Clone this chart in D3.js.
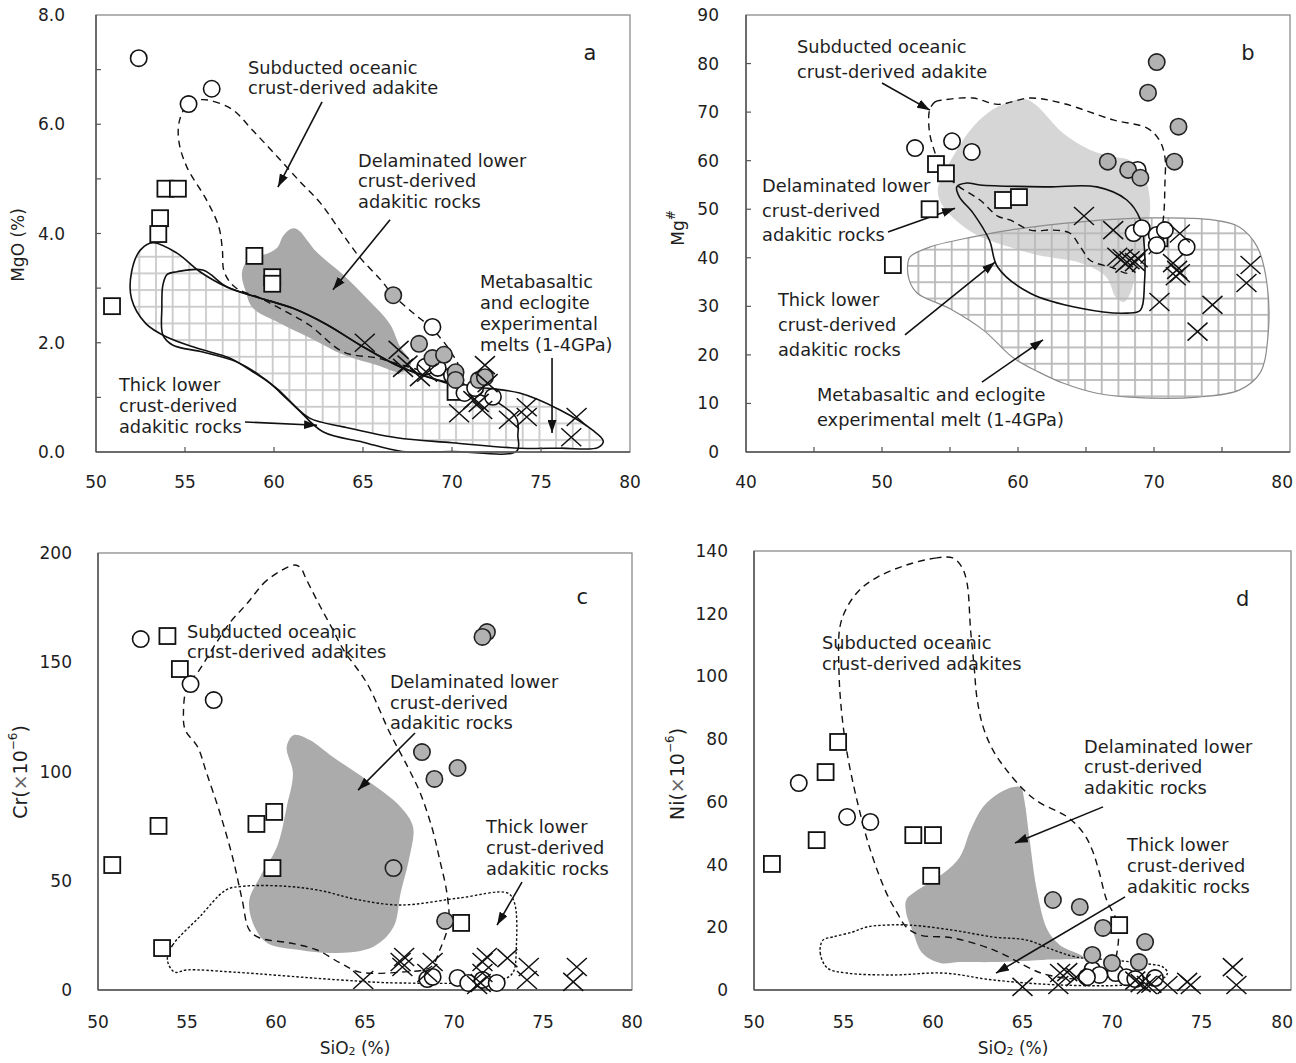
<!DOCTYPE html>
<html><head><meta charset="utf-8">
<script src="https://cdn.jsdelivr.net/npm/d3@7"></script>
<style>
body{margin:0;background:#fff}
svg{display:block}
text{font-family:"DejaVu Sans",sans-serif;fill:#1e1e1e}
</style>
</head><body>
<svg id="chart" width="1296" height="1063"></svg>
<script>
// ---------------- tick labels ----------------
const siTicks = [50, 55, 60, 65, 70, 75, 80];
const siTicksB = [40, 50, 60, 70, 80];
const siMinorB = [45, 50, 55, 60, 65, 70, 75];
const siMinorA = [55, 60, 65, 70, 75];
const mgoTicks = [0, 2, 4, 6, 8];
const mgoMinor = [1, 2, 3, 4, 5, 6, 7];
const mgNumTicks = [0, 10, 20, 30, 40, 50, 60, 70, 80, 90];
const crTicks = [0, 50, 100, 150, 200];
const niTicks = [0, 20, 40, 60, 80, 100, 120, 140];

// ---------------- panel a : SiO2 vs MgO ----------------
const aSquares = [[50.9,2.67],[53.9,4.82],[54.6,4.82],[53.6,4.28],[53.5,3.99],[58.9,3.59],[59.9,3.20],[59.9,3.08],[70.2,1.10]];
const aOpen = [[52.4,7.21],[55.2,6.37],[56.5,6.65],[68.9,2.29],[68.5,1.56],[69.2,1.54],[70.0,1.40],[70.7,1.08],[71.3,1.17],[72.3,1.01]];
const aGrey = [[66.7,2.87],[68.15,1.98],[68.9,1.72],[69.55,1.78],[70.2,1.46],[70.2,1.32],[71.5,1.32],[71.85,1.37]];
const aCrosses = [[65.1,2.0],[67.0,1.87],[67.25,1.54],[67.5,1.6],[68.2,1.37],[68.6,1.45],[71.85,1.59],[72.0,1.26],[71.2,0.95],[71.5,0.9],[70.4,0.71],[71.7,0.77],[73.2,0.59],[74.2,0.82],[74.2,0.64],[77.0,0.64],[76.7,0.27]];
const aSubducted = [[55.9,6.45],[56.6,6.42],[57.7,6.26],[58.8,5.89],[60.2,5.40],[61.46,4.95],[62.6,4.56],[63.7,4.06],[64.8,3.57],[66.0,3.15],[66.7,2.87],[67.8,2.55],[68.9,2.25],[70.0,1.8],[70.4,1.5],[69.5,1.42],[67.2,1.59],[65.8,1.72],[63.9,1.83],[62.0,2.32],[60.5,2.6],[59.2,2.82],[57.8,3.02],[57.2,3.3],[57.1,3.7],[56.9,4.12],[56.2,4.62],[55.1,5.22],[54.65,5.7],[54.7,6.08],[55.2,6.38]];
const aDelaminated = [[58.26,3.37],[58.65,3.55],[59.6,3.63],[60.2,3.75],[60.5,3.95],[60.9,4.08],[61.3,4.08],[62.4,3.66],[63.9,3.24],[65.4,2.75],[66.5,2.35],[67.1,1.92],[67.7,1.62],[67.2,1.46],[65.8,1.59],[63.9,1.78],[62.0,2.09],[60.2,2.38],[58.8,2.64],[58.4,2.95],[58.2,3.2]];
const aMetabasalt = [[53.2,3.83],[54.55,3.64],[55.84,3.30],[57.36,3.02],[59.2,2.82],[61.07,2.63],[62.98,2.33],[64.83,1.96],[67.08,1.56],[69.16,1.32],[71.4,1.19],[73.8,1.08],[76.07,0.77],[77.9,0.40],[78.5,0.2],[78.2,0.08],[76.1,0.07],[73.8,0.07],[70.0,0.17],[66.9,0.26],[63.9,0.46],[62.0,0.62],[60.8,0.95],[59.8,1.25],[58.8,1.47],[57.5,1.72],[55.7,1.90],[54.0,2.1],[52.8,2.35],[52.0,2.8],[52.0,3.3],[52.5,3.7]];
const aThickLower = [[54.55,3.30],[56.0,3.33],[57.36,3.02],[59.2,2.82],[61.07,2.63],[62.98,2.33],[64.83,1.96],[67.08,1.56],[69.16,1.32],[71.0,1.12],[72.6,0.9],[73.65,0.6],[73.7,0.3],[73.65,0.02],[70.0,0.01],[67.2,0.01],[65.0,0.18],[62.75,0.37],[61.3,0.8],[60.2,1.15],[59.0,1.45],[57.9,1.65],[56.0,1.83],[54.3,1.96],[53.76,2.14],[53.7,2.64],[53.76,3.06],[54.0,3.25]];

// ---------------- panel b : SiO2 vs Mg# ----------------
const bSquares = [[53.97,59.3],[54.7,57.4],[53.5,50.0],[50.8,38.5],[58.9,51.9],[60.07,52.5],[70.4,44.0]];
const bOpen = [[52.43,62.6],[55.15,64.0],[56.6,61.8],[68.8,58.1],[68.5,45.1],[69.1,46.1],[70.2,44.7],[70.8,45.7],[70.2,42.6],[72.4,42.2]];
const bGrey = [[70.2,80.3],[69.56,74.0],[71.8,67.0],[71.5,59.8],[66.6,59.8],[68.1,58.1],[69.0,56.5]];
const bCrosses = [[64.85,48.6],[67.0,45.7],[67.3,40.2],[67.7,39.9],[68.2,39.5],[68.6,39.1],[68.8,39.9],[67.9,38.8],[71.9,45.0],[71.4,38.9],[71.7,37.5],[71.9,36.8],[71.6,36.2],[70.4,30.9],[74.3,30.3],[73.2,24.8],[77.1,38.5],[76.8,34.8]];
const bDelaminated = [[54.1,54.0],[54.8,58.7],[56.7,67.0],[58.5,71.1],[60.5,72.7],[61.3,71.5],[63.3,65.7],[65.3,62.2],[67.0,60.8],[68.2,60.1],[69.2,57.4],[69.7,51.9],[69.5,45.1],[68.75,38.1],[68.3,33],[67.8,30.9],[67.2,31.8],[66.5,36.0],[64.6,38.9],[61.5,40.5],[59.4,42.2],[56.7,45.1],[54.5,50.5]];
const bSubducted = [[53.5,70.4],[53.9,72.1],[54.5,72.5],[56.7,72.9],[58.5,71.6],[60.9,72.9],[63.3,71.8],[67.0,68.4],[69.5,66.7],[70.4,64.2],[70.8,60.8],[70.8,55],[70.7,48.4],[70.4,43.7],[69.7,41.0],[68.75,38.1],[68.1,36.8],[67.0,37.9],[65.3,39.5],[64.6,42.2],[63.8,45.1],[62.6,45.7],[60.9,45.7],[59.4,47.8],[58.5,48.6],[57.2,51.9],[55.5,55.0],[54.3,58.5],[53.9,61.6],[53.5,65.7]];
const bThickLower = [[55.5,54.6],[56.25,55.4],[57.2,55.0],[62.1,54.6],[65.8,54.6],[68.0,51.9],[69.0,47.8],[69.3,41.6],[69.3,34.8],[69.0,29.2],[68.0,28.6],[64.6,29.6],[60.9,32.7],[58.5,38.1],[57.9,43.6],[56.7,49.2],[55.7,52.5]];
const bMetabasalt = [[51.9,38.9],[52.06,40.2],[53.5,42.2],[56.7,44.3],[59.4,45.7],[64.6,47.4],[69.5,48.2],[74.3,47.8],[76.3,46.3],[77.6,42.2],[78.3,34.8],[78.4,24.5],[77.8,16.3],[76.3,12.8],[73.2,11.3],[68.2,11.3],[65.8,12.1],[63.3,14.2],[61.5,16.5],[59.6,19.5],[57.5,25.0],[55.0,29.5],[52.6,32.7],[52.0,35.4]];

// ---------------- panel c : SiO2 vs Cr ----------------
const cSquares = [[53.9,162.0],[54.6,146.9],[53.4,75.1],[50.8,57.2],[58.9,76.0],[59.9,81.5],[59.8,55.8],[53.6,19.2],[70.4,30.7]];
const cOpen = [[52.4,160.6],[55.2,140.0],[56.5,132.7],[68.5,5.0],[68.8,6.0],[70.2,5.5],[70.8,3.2],[71.6,4.6],[72.4,3.2]];
const cGrey = [[71.85,163.8],[71.6,161.6],[68.2,108.9],[70.2,101.6],[68.9,96.6],[66.6,55.8],[69.5,31.6]];
const cCrosses = [[64.9,4.6],[67.0,12.8],[67.2,15.1],[67.1,10.5],[68.8,12.8],[68.5,7.8],[71.6,12.8],[71.85,15.1],[71.6,7.8],[71.5,3.2],[71.3,2.3],[73.0,14.6],[74.2,10.5],[74.1,4.6],[76.9,10.5],[76.7,3.7]];
const cSubducted = [[61.07,194.5],[59.5,187.6],[58.4,177.1],[57.4,168.0],[56.5,157.0],[55.7,146.5],[55.0,138.7],[54.8,126.8],[54.9,119.0],[55.6,111.2],[56.1,99.3],[56.85,81.0],[57.6,59.5],[58.1,41.2],[58.5,27.5],[59.1,23.8],[60.8,21.5],[62.3,18.3],[63.6,12.4],[64.7,8.2],[67.0,8.2],[68.7,10.5],[69.2,18.3],[69.7,30.7],[69.6,44.4],[69.2,59.5],[68.8,73.2],[68.1,90.2],[67.4,102.1],[66.4,117.6],[65.1,140.5],[63.8,155.6],[63.2,164.8],[62.5,175.3],[61.7,188],[61.4,193]];
const cThickLower = [[53.9,13.7],[54.2,20.6],[55.7,33.4],[57.2,45.8],[58.2,47.5],[60.5,47.5],[62.5,45.5],[64.5,41.5],[67.0,38.9],[70.3,42.1],[73.0,44.4],[73.4,39.8],[73.5,19.7],[73.3,7.8],[72.6,4.6],[67.0,3.2],[63.6,4.6],[57.6,8.2],[55.0,9.2],[54.3,8.2]];
const cDelaminated = [[61.0,116.7],[61.9,114.4],[63.2,106.6],[65.1,96.1],[67.0,83.8],[67.7,74.6],[67.5,60.9],[67.0,44.4],[66.6,28.8],[65.45,19.7],[63.2,16.9],[61.35,18.3],[59.5,21.5],[58.7,30.7],[58.5,41.2],[59.1,51.7],[60.05,65.4],[60.6,83.8],[60.95,99.3],[60.6,111.2]];

// ---------------- panel d : SiO2 vs Ni ----------------
const dSquares = [[54.7,79.1],[54.0,69.5],[53.5,47.8],[51.0,40.2],[58.9,49.4],[60.0,49.4],[59.9,36.4],[70.4,20.7]];
const dOpen = [[52.5,66.0],[55.2,55.2],[56.5,53.6],[68.9,6.4],[69.3,4.8],[70.2,5.4],[70.8,4.1],[72.4,3.8],[68.6,4.1],[71.3,3.5]];
const dGrey = [[66.7,28.7],[68.2,26.5],[69.5,19.8],[71.85,15.3],[68.9,11.2],[70.0,8.6],[71.5,8.9]];
const dCrosses = [[65.0,1.0],[67.0,1.6],[67.1,5.4],[67.5,5.7],[68.0,4.1],[71.6,2.2],[71.3,3.0],[71.95,1.6],[72.2,2.0],[73.1,1.6],[74.2,2.6],[74.4,1.6],[76.75,7.3],[76.95,1.6]];
const dSubducted = [[61.1,137.8],[60.2,137.8],[58.5,135.5],[56.9,131.7],[55.9,127.6],[55.2,122.1],[54.8,115.8],[54.75,101.1],[54.9,88.3],[55.2,75.6],[55.75,60.6],[56.5,44.6],[57.4,30.9],[58.0,24.6],[58.5,20.1],[59.3,17.5],[61.1,16.6],[63.5,12.5],[65.6,6.4],[66.4,4.8],[68.0,3.5],[69.8,4.5],[70.3,12.8],[70.3,21.4],[69.7,28.7],[69.3,37.3],[68.9,44.6],[68.4,50.1],[67.5,55.2],[66.0,59.6],[65.25,62.8],[64.1,70.2],[63.35,76.5],[62.8,83.9],[62.45,93.4],[62.3,103.0],[62.1,114.8],[61.9,129.8],[61.6,135]];
const dThickLower = [[53.85,15.9],[53.7,11.8],[54.1,7.0],[55.2,5.4],[57.8,4.8],[60.6,5.4],[63.35,3.2],[67.1,1.6],[70.8,1.6],[72.7,3.2],[73.1,5.4],[72.85,7.3],[71.6,8.6],[69.9,9.6],[68.0,10.5],[66.7,12.8],[65.25,15.9],[63.35,16.9],[61.1,19.1],[58.7,20.7],[57.4,20.7],[56.3,20.1],[55.5,18.5],[54.4,16.9]];
const dDelaminated = [[58.5,28.7],[58.9,30.9],[60.6,37.3],[61.5,42.4],[62.1,51.0],[62.8,58.4],[63.7,62.8],[64.5,64.7],[64.9,64.7],[65.1,60.6],[65.4,47.8],[65.8,31.9],[66.4,19.1],[67.1,14.3],[68.4,10.5],[66.1,9.6],[63.35,8.9],[61.5,8.9],[60.4,8.6],[59.4,11.8],[58.9,18.2],[58.5,24.6]];

// ---------------- annotations (data units) ----------------
const aTexts = [
  {x:58.54, y:6.92, lines:["Subducted oceanic","crust-derived adakite"], dy:20.5},
  {x:64.72, y:5.22, lines:["Delaminated lower","crust-derived","adakitic rocks"], dy:20.5},
  {x:71.57, y:3.00, lines:["Metabasaltic","and eclogite","experimental","melts (1-4GPa)"], dy:21},
  {x:51.29, y:1.12, lines:["Thick lower","crust-derived","adakitic rocks"], dy:21}
];
const aArrows = [[[62.70,6.41],[60.22,4.85]],[[66.52,4.25],[63.31,2.97]],[[75.62,1.72],[75.62,0.35]],[[58.37,0.55],[62.42,0.49]]];
const bTexts = [
  {x:43.75, y:82.2, lines:["Subducted oceanic","crust-derived adakite"], dy:25},
  {x:41.18, y:53.5, lines:["Delaminated lower","crust-derived","adakitic rocks"], dy:24.5},
  {x:42.35, y:30.1, lines:["Thick lower","crust-derived","adakitic rocks"], dy:25},
  {x:45.22, y:10.5, lines:["Metabasaltic and eclogite","experimental melt (1-4GPa)"], dy:25}
];
const bArrows = [[[50.0,76.0],[53.53,70.4]],[[50.44,45.3],[55.37,50.2]],[[51.69,24.1],[58.31,39.1]],[[57.35,14.4],[61.84,23.1]]];
const cTexts = [
  {x:55.0, y:161.1, lines:["Subducted oceanic","crust-derived adakites"], dy:20.5},
  {x:66.4, y:138.2, lines:["Delaminated lower","crust-derived","adakitic rocks"], dy:20.5},
  {x:71.8, y:71.9, lines:["Thick lower","crust-derived","adakitic rocks"], dy:21}
];
const cArrows = [[[67.81,117.6],[64.61,91.5]],[[73.82,49.4],[72.42,29.7]]];
const dTexts = [
  {x:53.8, y:108.7, lines:["Subducted oceanic","crust-derived adakites"], dy:20.5},
  {x:68.44, y:75.6, lines:["Delaminated lower","crust-derived","adakitic rocks"], dy:20.5},
  {x:70.84, y:44.3, lines:["Thick lower","crust-derived","adakitic rocks"], dy:21}
];
const dArrows = [[[69.5,58.4],[64.58,46.9]],[[70.73,29.7],[63.52,5.4]]];

// ---------------- drawing ----------------
const W = 1296;
const svg = d3.select('#chart');
const defs = svg.append('defs');
defs.append('marker').attr('id','arrow').attr('viewBox','0 0 13 9')
  .attr('refX',13).attr('refY',4.5).attr('markerWidth',13).attr('markerHeight',9)
  .attr('markerUnits','userSpaceOnUse').attr('orient','auto')
  .append('path').attr('d','M0,0L13,4.5L0,9Z').attr('fill','#111');

function makeGrid(id, ox, oy, sx, sy, color) {
  const p = defs.append('pattern').attr('id', id).attr('patternUnits','userSpaceOnUse')
    .attr('x', ox - 0.9).attr('y', oy - 0.9).attr('width', sx).attr('height', sy);
  p.append('rect').attr('x',0).attr('y',0).attr('width',1.8).attr('height',sy).attr('fill',color);
  p.append('rect').attr('x',0).attr('y',0).attr('width',sx).attr('height',1.8).attr('fill',color);
}
makeGrid('gridA', 139.3, 256.7, 16.67, 16.67, '#c9c9c9');
makeGrid('gridB', 1051.7, 233.3, 16.67, 16.3, '#b9b9b9');

function panel(cfg) {
  const [L, T, R, B] = cfg.box;
  const x = d3.scaleLinear().domain(cfg.xDomain).range([L, R]);
  const y = d3.scaleLinear().domain(cfg.yDomain).range([B, T]);
  const g = svg.append('g');
  const closed = d3.line().x(d => x(d[0])).y(d => y(d[1])).curve(d3.curveCatmullRomClosed.alpha(0.5));
  cfg.layers.forEach(ly => {
    g.append('path').attr('d', closed(ly.data))
      .attr('fill', ly.fill || 'none')
      .attr('stroke', ly.stroke || 'none')
      .attr('stroke-width', ly.sw || 1.5)
      .attr('stroke-dasharray', ly.dash || null)
      .attr('stroke-linejoin','round');
  });
  // frame
  g.append('rect').attr('x', L).attr('y', T).attr('width', R - L).attr('height', B - T)
    .attr('fill','none').attr('stroke','#8a8a8a').attr('stroke-width',1.3);
  g.append('line').attr('x1',L).attr('x2',L).attr('y1',T).attr('y2',B).attr('stroke','#555').attr('stroke-width',1.5);
  g.append('line').attr('x1',L).attr('x2',R).attr('y1',B).attr('y2',B).attr('stroke','#555').attr('stroke-width',1.5);
  // minor ticks (inward)
  (cfg.xMinor || []).forEach(v => g.append('line').attr('x1',x(v)).attr('x2',x(v)).attr('y1',B).attr('y2',B-5).attr('stroke','#555').attr('stroke-width',1.2));
  (cfg.yMinor || []).forEach(v => g.append('line').attr('x1',L).attr('x2',L+5).attr('y1',y(v)).attr('y2',y(v)).attr('stroke','#555').attr('stroke-width',1.2));
  // tick labels
  cfg.xTicks.forEach(v => {
    const px = x(v);
    const t = g.append('text').attr('y', B + cfg.xLabOff).attr('dominant-baseline','central').attr('font-size',17).text(v);
    if (px + 12 > W - 2) t.attr('x', W - 3).attr('text-anchor','end');
    else t.attr('x', px).attr('text-anchor','middle');
  });
  cfg.yTicks.forEach(v => g.append('text').attr('x', L - cfg.yLabOff).attr('y', y(v))
    .attr('text-anchor','end').attr('dominant-baseline','central').attr('font-size',17).text(cfg.yFmt(v)));
  // texts
  cfg.texts.forEach(t => {
    const tx = g.append('text').attr('x', x(t.x)).attr('y', y(t.y)).attr('font-size',17.8);
    t.lines.forEach((s, i) => tx.append('tspan').attr('x', x(t.x)).attr('y', y(t.y) + i * t.dy).text(s));
  });
  cfg.arrows.forEach(a => g.append('line').attr('x1', x(a[0][0])).attr('y1', y(a[0][1]))
    .attr('x2', x(a[1][0])).attr('y2', y(a[1][1])).attr('stroke','#111').attr('stroke-width',1.6)
    .attr('marker-end','url(#arrow)'));
  // panel letter
  g.append('text').attr('x', x(cfg.letter.x)).attr('y', y(cfg.letter.y)).attr('text-anchor','middle')
    .attr('font-size',21).text(cfg.letter.t);
  // markers
  g.selectAll(null).data(cfg.squares).enter().append('rect')
    .attr('x', d => x(d[0]) - 8).attr('y', d => y(d[1]) - 8).attr('width',16).attr('height',16)
    .attr('fill','#fff').attr('stroke','#111').attr('stroke-width',1.8);
  g.selectAll(null).data(cfg.open).enter().append('circle')
    .attr('cx', d => x(d[0])).attr('cy', d => y(d[1])).attr('r',8.2)
    .attr('fill','#fff').attr('stroke','#111').attr('stroke-width',1.6);
  g.selectAll(null).data(cfg.grey).enter().append('circle')
    .attr('cx', d => x(d[0])).attr('cy', d => y(d[1])).attr('r',8.2)
    .attr('fill','#b2b2b2').attr('stroke','#222').attr('stroke-width',1.6);
  g.selectAll(null).data(cfg.crosses).enter().append('path')
    .attr('d', d => `M${x(d[0])-10},${y(d[1])-9}L${x(d[0])+10},${y(d[1])+9}M${x(d[0])-10},${y(d[1])+9}L${x(d[0])+10},${y(d[1])-9}`)
    .attr('stroke','#111').attr('stroke-width',1.5).attr('fill','none');
  return {x, y, g};
}

const f1 = d3.format('.1f');
panel({
  box:[96,15,630,452], xDomain:[50,80], yDomain:[0,8],
  xTicks: siTicks, yTicks: mgoTicks, xMinor: siMinorA, yMinor: mgoMinor, yFmt: f1, xLabOff:30, yLabOff:31,
  layers:[
    {data:aMetabasalt, fill:'url(#gridA)'},
    {data:aDelaminated, fill:'#a9a9a9'},
    {data:aMetabasalt, stroke:'#111', sw:1.6},
    {data:aThickLower, stroke:'#111', sw:1.6},
    {data:aSubducted, stroke:'#111', sw:1.4, dash:'7,5'}
  ],
  texts:aTexts, arrows:aArrows, letter:{x:77.75, y:7.18, t:'a'},
  squares:aSquares, open:aOpen, grey:aGrey, crosses:aCrosses
});
panel({
  box:[746,15,1290,452], xDomain:[40,80], yDomain:[0,90],
  xTicks: siTicksB, yTicks: mgNumTicks, xMinor: siMinorB, yMinor: mgNumTicks.slice(1,-1), yFmt: d => d, xLabOff:30, yLabOff:27,
  layers:[
    {data:bDelaminated, fill:'#d6d6d6'},
    {data:bMetabasalt, fill:'url(#gridB)', stroke:'#8c8c8c', sw:1.2},
    {data:bSubducted, stroke:'#111', sw:1.4, dash:'7,5'},
    {data:bThickLower, stroke:'#111', sw:1.6}
  ],
  texts:bTexts, arrows:bArrows, letter:{x:76.9, y:80.7, t:'b'},
  squares:bSquares, open:bOpen, grey:bGrey, crosses:bCrosses
});
panel({
  box:[98,553,632,990], xDomain:[50,80], yDomain:[0,200],
  xTicks: siTicks, yTicks: crTicks, yFmt: d => d, xLabOff:32, yLabOff:26,
  layers:[
    {data:cDelaminated, fill:'#ababab'},
    {data:cSubducted, stroke:'#111', sw:1.4, dash:'7,5'},
    {data:cThickLower, stroke:'#111', sw:1.4, dash:'2.5,2'}
  ],
  texts:cTexts, arrows:cArrows, letter:{x:77.2, y:176.7, t:'c'},
  squares:cSquares, open:cOpen, grey:cGrey, crosses:cCrosses
});
panel({
  box:[754,551,1291,990], xDomain:[50,80], yDomain:[0,140],
  xTicks: siTicks, yTicks: niTicks, yFmt: d => d, xLabOff:32, yLabOff:26,
  layers:[
    {data:dDelaminated, fill:'#ababab'},
    {data:dSubducted, stroke:'#111', sw:1.4, dash:'7,5'},
    {data:dThickLower, stroke:'#111', sw:1.4, dash:'2.5,2'}
  ],
  texts:dTexts, arrows:dArrows, letter:{x:77.3, y:122.4, t:'d'},
  squares:dSquares, open:dOpen, grey:dGrey, crosses:dCrosses
});

// axis titles
function vlabel(x, y, build) {
  const t = svg.append('text').attr('transform', `translate(${x},${y}) rotate(-90)`)
    .attr('text-anchor','middle').attr('dominant-baseline','central');
  build(t);
}
vlabel(18, 245, t => t.attr('font-size',17).text('MgO (%)'));
vlabel(678, 228, t => { t.attr('font-size',17).text('Mg'); t.append('tspan').attr('baseline-shift','super').attr('font-size',12).text('#'); });
vlabel(20, 772, t => {
  t.attr('font-family','"Liberation Serif",serif').attr('font-size',19);
  t.append('tspan').text('Cr(');
  t.append('tspan').attr('fill','#666').text('×');
  t.append('tspan').text('10');
  t.append('tspan').attr('baseline-shift','super').attr('font-size',12).text('−6');
  t.append('tspan').text(')');
});
vlabel(677, 774, t => {
  t.attr('font-family','"Liberation Serif",serif').attr('font-size',19);
  t.append('tspan').text('Ni(');
  t.append('tspan').attr('fill','#666').text('×');
  t.append('tspan').text('10');
  t.append('tspan').attr('baseline-shift','super').attr('font-size',12).text('−6');
  t.append('tspan').text(')');
});
[[355,1048],[1013,1048]].forEach(p => {
  const t = svg.append('text').attr('x',p[0]).attr('y',p[1]).attr('text-anchor','middle')
    .attr('dominant-baseline','central').attr('font-size',17);
  t.append('tspan').text('SiO');
  t.append('tspan').attr('baseline-shift','-3').attr('font-size',11).text('2');
  t.append('tspan').attr('baseline-shift','0').text(' (%)');
});
</script>
</body></html>
